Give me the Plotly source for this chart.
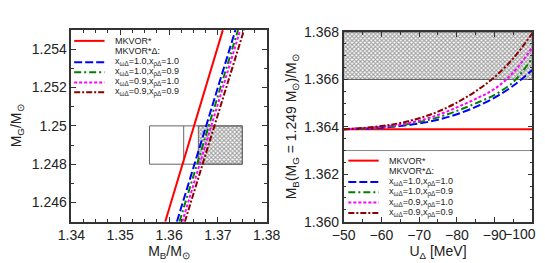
import plotly.graph_objects as go

# ---------------- data ----------------
# Left panel: M_G vs M_B lines (endpoints read at M_G = 1.245 and 1.255)
MG_ENDS = [1.245, 1.255]
MB_MKVOR = [1.35922, 1.37101]
MB_X10_10 = [1.36161, 1.37359]
MB_X10_09 = [1.36214, 1.37412]
MB_X09_10 = [1.36272, 1.37456]
MB_X09_09 = [1.36324, 1.37534]

# constraint box (left) and bands (right)
BOX_MB = [1.356, 1.363, 1.366, 1.375]
BOX_MG = [1.248, 1.250]
BAND_MB = [1.366, 1.368]
LINE_MB = 1.363

# Right panel: M_B(M_G=1.249) vs U_Delta
U_DELTA = [-50, -55, -60, -65, -70, -75, -80, -85, -90, -95, -100]
MB_R_MKVOR = [1.3639] * 11
MB_R_10_10 = [1.36390, 1.36392, 1.36396, 1.36403, 1.36414, 1.36430, 1.36453, 1.36484, 1.36523, 1.36574, 1.36640]
MB_R_10_09 = [1.36390, 1.36393, 1.36398, 1.36406, 1.36420, 1.36440, 1.36467, 1.36499, 1.36535, 1.36590, 1.36690]
MB_R_09_10 = [1.36390, 1.36394, 1.36400, 1.36410, 1.36426, 1.36450, 1.36482, 1.36518, 1.36560, 1.36630, 1.36735]
MB_R_09_09 = [1.36390, 1.36395, 1.36403, 1.36416, 1.36436, 1.36464, 1.36502, 1.36550, 1.36610, 1.36690, 1.36795]

U_TICKS = [-50, -60, -70, -80, -90, -100]
U_TICK_TEXT = ["−50", "−60", "−70", "−80", "−90", ""]
U_LAST_LABEL = "−100"
MG_TICKS = [1.246, 1.248, 1.25, 1.252, 1.254]
MG_TICK_TEXT = ["1.246", "1.248", "1.25", "1.252", "1.254"]

NAMES = ["MKVOR*", "MKVOR*Δ:",
         "x<sub>ωΔ</sub>=1.0,x<sub>ρΔ</sub>=1.0",
         "x<sub>ωΔ</sub>=1.0,x<sub>ρΔ</sub>=0.9",
         "x<sub>ωΔ</sub>=0.9,x<sub>ρΔ</sub>=1.0",
         "x<sub>ωΔ</sub>=0.9,x<sub>ρΔ</sub>=0.9"]

# ---------------- styles ----------------
STY = [
    dict(color="#ff0000", width=2, dash="solid"),
    None,
    dict(color="#0000ff", width=2, dash="8px,3px"),
    dict(color="#008000", width=2, dash="7px,3px,2px,3px"),
    dict(color="#ff00ff", width=2, dash="3px,2px"),
    dict(color="#8b0000", width=2, dash="6px,2px,2px,2px"),
]
FONT = "Liberation Sans, Arial, sans-serif"
W, H = 545, 263
HATCH = dict(shape="x", fgcolor="#444", bgcolor="white", size=3, solidity=0.6)

# manual legend layout (pixels)
LEG_LEFT = dict(x0=55, x1=87, xt=96, rows=[26.5, 37.5, 49.3, 60, 70.7, 81.3])
LEG_RIGHT = dict(x0=344, x1=376, xt=385, rows=[154, 165, 176.7, 187.7, 198.7, 209.7])

fig = go.Figure()

# ---- left panel: box and hatch ----
hx = [BOX_MB[2], BOX_MB[3], BOX_MB[3], BOX_MB[2], BOX_MB[2]]
hy = [BOX_MG[0], BOX_MG[0], BOX_MG[1], BOX_MG[1], BOX_MG[0]]
fig.add_trace(go.Scatter(x=hx, y=hy, mode="lines", fill="toself",
                         fillcolor="rgba(255,255,255,0)", fillpattern=HATCH,
                         line=dict(color="#666", width=1), showlegend=False, hoverinfo="skip",
                         xaxis="x", yaxis="y"))
bx = [BOX_MB[0], BOX_MB[3], BOX_MB[3], BOX_MB[0], BOX_MB[0], None, BOX_MB[1], BOX_MB[1]]
by = [BOX_MG[0], BOX_MG[0], BOX_MG[1], BOX_MG[1], BOX_MG[0], None, BOX_MG[0], BOX_MG[1]]
fig.add_trace(go.Scatter(x=bx, y=by, mode="lines", line=dict(color="#666", width=1),
                         showlegend=False, hoverinfo="skip", xaxis="x", yaxis="y"))

# ---- right panel: band and line ----
ux = [U_DELTA[0], U_DELTA[-1], U_DELTA[-1], U_DELTA[0], U_DELTA[0]]
uy = [BAND_MB[0], BAND_MB[0], BAND_MB[1], BAND_MB[1], BAND_MB[0]]
fig.add_trace(go.Scatter(x=ux, y=uy, mode="lines", fill="toself",
                         fillcolor="rgba(255,255,255,0)", fillpattern=HATCH,
                         line=dict(color="#555", width=1), showlegend=False, hoverinfo="skip",
                         xaxis="x2", yaxis="y2"))
fig.add_trace(go.Scatter(x=[U_DELTA[0], U_DELTA[-1]], y=[LINE_MB, LINE_MB], mode="lines",
                         line=dict(color="#888", width=1), showlegend=False, hoverinfo="skip",
                         xaxis="x2", yaxis="y2"))

# ---- curves ----
left_data = [MB_MKVOR, None, MB_X10_10, MB_X10_09, MB_X09_10, MB_X09_09]
right_data = [MB_R_MKVOR, None, MB_R_10_10, MB_R_10_09, MB_R_09_10, MB_R_09_09]
for i, name in enumerate(NAMES):
    if left_data[i] is None:
        continue
    fig.add_trace(go.Scatter(x=left_data[i], y=MG_ENDS, mode="lines", name=name,
                             line=STY[i], showlegend=False, xaxis="x", yaxis="y"))
    fig.add_trace(go.Scatter(x=U_DELTA, y=right_data[i], mode="lines", name=name,
                             line=dict(STY[i], shape="spline"), showlegend=False,
                             xaxis="x2", yaxis="y2"))

# ---- manual legends ----
shapes, annotations = [], []
for leg in (LEG_LEFT, LEG_RIGHT):
    for i, name in enumerate(NAMES):
        yp = 1 - leg["rows"][i] / H
        if STY[i] is not None:
            shapes.append(dict(type="line", xref="paper", yref="paper",
                               x0=leg["x0"] / W, x1=leg["x1"] / W, y0=yp, y1=yp,
                               line=STY[i]))
        annotations.append(dict(text=name, xref="paper", yref="paper", x=leg["xt"] / W, y=yp,
                                xanchor="left", yanchor="middle", showarrow=False,
                                font=dict(size=9, family=FONT, color="#222")))

# last tick label of the right x axis, pulled inside the canvas
annotations.append(dict(text=U_LAST_LABEL, xref="x2", yref="paper", x=U_TICKS[-1], y=1 - 221 / H,
                        xanchor="right", yanchor="top", xshift=6, showarrow=False,
                        font=dict(size=14, family=FONT, color="#222")))

axis_common = dict(showline=True, linecolor="#333", linewidth=1.5, mirror="allticks",
                   ticks="inside", ticklen=5, tickcolor="#333", showgrid=False, zeroline=False,
                   tickfont=dict(size=14, color="#222", family=FONT))

fig.update_layout(
    width=W, height=H, margin=dict(l=0, r=0, t=0, b=0),
    paper_bgcolor="white", plot_bgcolor="white", showlegend=False,
    font=dict(family=FONT, color="#222"),
    shapes=shapes, annotations=annotations,
    xaxis=dict(axis_common, domain=[52 / W, 258 / W], anchor="y", range=[1.34, 1.38],
               dtick=0.01, tickformat=".2f",
               minor=dict(ticks="inside", ticklen=3, dtick=0.0025, tickcolor="#333"),
               title=dict(text="M<sub>B</sub>/M<sub>⊙</sub>", font=dict(size=14), standoff=1)),
    yaxis=dict(axis_common, domain=[1 - 219 / H, 1 - 15 / H], anchor="x", range=[1.245, 1.255],
               tickvals=MG_TICKS, ticktext=MG_TICK_TEXT,
               minor=dict(ticks="inside", ticklen=3, dtick=0.001, tickcolor="#333"),
               title=dict(text="M<sub>G</sub>/M<sub>⊙</sub>", font=dict(size=14), standoff=8)),
    xaxis2=dict(axis_common, domain=[339 / W, 538 / W], anchor="y2", range=[-50, -100],
                tickvals=U_TICKS, ticktext=U_TICK_TEXT,
                minor=dict(ticks="inside", ticklen=3, dtick=5, tickcolor="#333"),
                title=dict(text="U<sub>Δ</sub> [MeV]", font=dict(size=14), standoff=3)),
    yaxis2=dict(axis_common, domain=[1 - 219 / H, 1 - 17 / H], anchor="x2", range=[1.360, 1.368],
                dtick=0.002, tickformat=".3f",
                minor=dict(ticks="inside", ticklen=3, dtick=0.0005, tickcolor="#333"),
                title=dict(text="M<sub>B</sub>(M<sub>G</sub> = 1.249 M<sub>⊙</sub>)/M<sub>⊙</sub>",
                           font=dict(size=14), standoff=4)),
)

fig.write_html("out.html")
